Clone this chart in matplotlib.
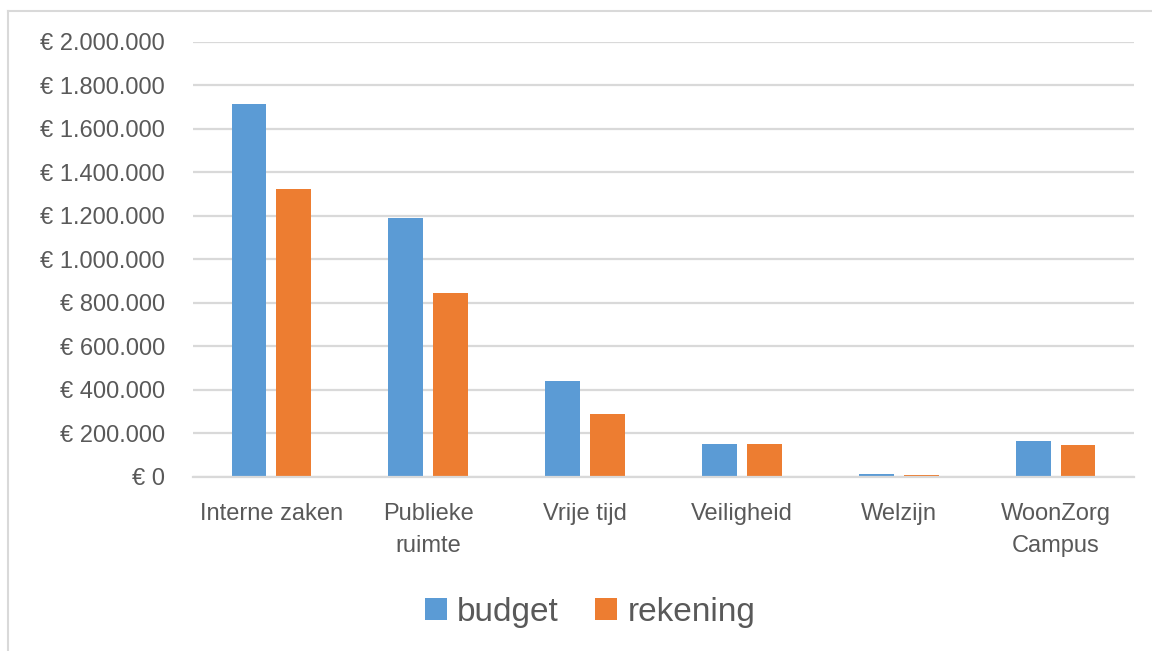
import matplotlib
matplotlib.use("Agg")
import matplotlib.pyplot as plt
import numpy as np
from matplotlib.lines import Line2D
from matplotlib.ticker import FuncFormatter

categories = ["Interne zaken", "Publieke\nruimte", "Vrije tijd", "Veiligheid", "Welzijn", "WoonZorg\nCampus"]
budget = [1715000, 1191000, 441000, 152000, 12000, 165000]
rekening = [1320000, 846000, 290000, 152000, 9000, 147000]
series_names = ["budget", "rekening"]
colors = ["#5B9BD5", "#ED7D31"]

plt.rcParams['font.family'] = ['Liberation Sans', 'DejaVu Sans']
text_color = "#595959"
grid_color = "#D9D9D9"

fig = plt.figure(figsize=(11.52, 6.51), dpi=100)
ax = fig.add_axes([193/1152, 1-476.7/651, (1134-193)/1152, (476.7-41.5)/651])

x = np.arange(len(categories))
w = 0.223
off = 0.143
ax.bar(x - off, budget, w, color=colors[0], label=series_names[0], zorder=3)
ax.bar(x + off, rekening, w, color=colors[1], label=series_names[1], zorder=3)

ax.set_xlim(-0.5, len(categories) - 0.5)
ax.set_ylim(0, 2000000)
ax.set_yticks(np.arange(0, 2000001, 200000))

def fmt(v, pos):
    v = int(round(v))
    if v == 0:
        return "€ 0"
    return "€ " + f"{v:,}".replace(",", ".")
ax.yaxis.set_major_formatter(FuncFormatter(fmt))
ax.set_xticks(x)
ax.set_xticklabels(categories)
for lab in ax.get_xticklabels():
    lab.set_linespacing(1.6)

ax.tick_params(axis='y', length=0, pad=20, labelsize=17, labelcolor=text_color)
ax.tick_params(axis='x', length=0, pad=19, labelsize=17, labelcolor=text_color)
ax.grid(axis='y', color=grid_color, linewidth=1.6, zorder=0)
for s in ["top", "right", "left"]:
    ax.spines[s].set_visible(False)
ax.spines["bottom"].set_color(grid_color)
ax.spines["bottom"].set_linewidth(1.6)
ax.spines["bottom"].set_zorder(4)

# outer chart border (left and top visible)
fig.add_artist(Line2D([7.5/1152, 7.5/1152], [0, 1-10.5/651], transform=fig.transFigure, color=grid_color, linewidth=1.5))
fig.add_artist(Line2D([7.5/1152, 1], [1-10.5/651, 1-10.5/651], transform=fig.transFigure, color=grid_color, linewidth=1.5))

leg = fig.legend(loc='center', bbox_to_anchor=(590/1152, 1-612/651), ncol=2, frameon=False,
                 fontsize=24, handlelength=0.66, handleheight=0.66, handletextpad=0.3,
                 columnspacing=1.1, labelcolor=text_color)

fig.savefig("out.png", dpi=100)
